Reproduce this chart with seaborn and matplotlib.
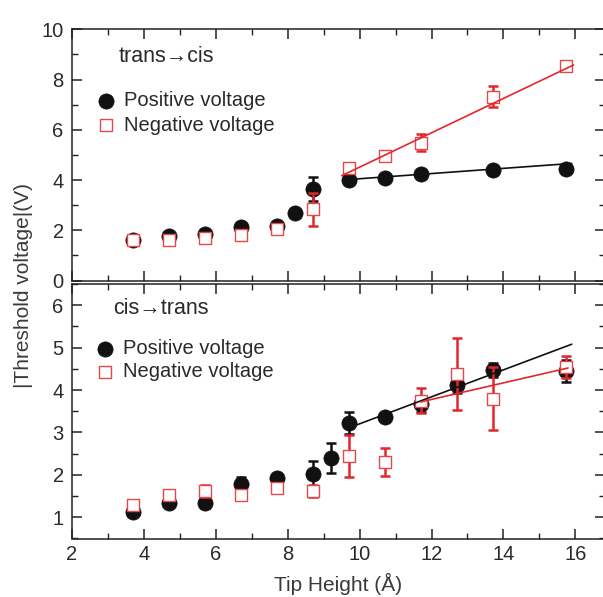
import numpy as np
import pandas as pd
import matplotlib
matplotlib.use("Agg")
import matplotlib.pyplot as plt
from matplotlib.ticker import MultipleLocator
import seaborn as sns

# ---------------- data ----------------
# top panel: trans -> cis
top_pos_x = [3.7, 4.7, 5.7, 6.7, 7.7, 8.2, 8.7, 9.7, 10.7, 11.7, 13.7, 15.75]
top_pos_y = [1.63, 1.76, 1.87, 2.14, 2.18, 2.70, 3.64, 4.02, 4.10, 4.24, 4.40, 4.44]
top_pos_e = [0.08, 0.08, 0.08, 0.08, 0.08, 0.15, 0.48, 0.05, 0.05, 0.05, 0.05, 0.05]

top_neg_x = [3.7, 4.7, 5.7, 6.7, 7.7, 8.7, 9.7, 10.7, 11.7, 13.7, 15.75]
top_neg_y = [1.63, 1.63, 1.71, 1.83, 2.06, 2.84, 4.49, 4.97, 5.49, 7.32, 8.55]
top_neg_e = [0.15, 0.15, 0.12, 0.15, 0.12, 0.66, 0.15, 0.08, 0.35, 0.43, 0.15]

top_pos_fit_x = [9.7, 15.9]
top_pos_fit_y = [4.02, 4.66]
top_neg_fit_x = [9.5, 15.95]
top_neg_fit_y = [4.17, 8.58]

# bottom panel: cis -> trans
bot_pos_x = [3.7, 4.7, 5.7, 6.7, 7.7, 8.7, 9.2, 9.7, 10.7, 11.7, 12.7, 13.7, 15.75]
bot_pos_y = [1.13, 1.33, 1.33, 1.78, 1.93, 2.03, 2.40, 3.22, 3.37, 3.66, 4.13, 4.47, 4.45]
bot_pos_e = [0.06, 0.05, 0.12, 0.17, 0.08, 0.30, 0.35, 0.26, 0.10, 0.18, 0.20, 0.17, 0.25]

bot_neg_x = [3.7, 4.7, 5.7, 6.7, 7.7, 8.7, 9.7, 10.7, 11.7, 12.7, 13.7, 15.75]
bot_neg_y = [1.28, 1.52, 1.62, 1.52, 1.70, 1.62, 2.44, 2.30, 3.75, 4.38, 3.80, 4.55]
bot_neg_e = [0.10, 0.10, 0.15, 0.07, 0.08, 0.15, 0.50, 0.33, 0.30, 0.85, 0.75, 0.26]

bot_pos_fit_x = [9.8, 15.9]
bot_pos_fit_y = [3.14, 5.08]
bot_neg_fit_x = [11.7, 15.8]
bot_neg_fit_y = [3.72, 4.52]

x_ticks = [2, 4, 6, 8, 10, 12, 14, 16]
top_yticks = [0, 2, 4, 6, 8, 10]
bot_yticks = [1, 2, 3, 4, 5, 6]

# ---------------- style ----------------
sns.set_theme(style="white")
plt.rcParams["font.family"] = ["Liberation Sans", "DejaVu Sans"]
plt.rcParams["axes.linewidth"] = 1.1

BLACK = "#111111"
RED = "#e3262b"
RED_EDGE = "#e5484b"
TXT = "#2a2a2a"

fig = plt.figure(figsize=(6.03, 5.97), dpi=100)
W, H = 603, 597
left_px, right_px = 72, 605
ax_top = fig.add_axes([left_px / W, 1 - 280.5 / H, (right_px - left_px) / W, (280.5 - 29.3) / H])
ax_bot = fig.add_axes([left_px / W, 1 - 538.5 / H, (right_px - left_px) / W, (538.5 - 284) / H])


def draw_panel(ax, px, py, pe, nx, ny, ne, pfx, pfy, nfx, nfy):
    ax.errorbar(px, py, yerr=pe, fmt="none", ecolor=BLACK, elinewidth=1.8,
                capsize=3.5, capthick=1.8, zorder=2)
    sns.scatterplot(x=px, y=py, ax=ax, marker="o", s=120, color=BLACK,
                    edgecolor=BLACK, linewidth=0.5, zorder=3, label="Positive voltage")
    ax.errorbar(nx, ny, yerr=ne, fmt="none", ecolor=RED, elinewidth=1.8,
                capsize=3.5, capthick=1.8, zorder=4)
    sns.scatterplot(x=nx, y=ny, ax=ax, marker="s", s=70, facecolor="white",
                    edgecolor=RED_EDGE, linewidth=1.0, zorder=5, label="Negative voltage")
    sns.lineplot(x=pfx, y=pfy, ax=ax, color=BLACK, linewidth=1.2, zorder=6,
                 legend=False)
    sns.lineplot(x=nfx, y=nfy, ax=ax, color=RED, linewidth=1.2, zorder=6,
                 legend=False)


draw_panel(ax_top, top_pos_x, top_pos_y, top_pos_e, top_neg_x, top_neg_y, top_neg_e,
           top_pos_fit_x, top_pos_fit_y, top_neg_fit_x, top_neg_fit_y)
draw_panel(ax_bot, bot_pos_x, bot_pos_y, bot_pos_e, bot_neg_x, bot_neg_y, bot_neg_e,
           bot_pos_fit_x, bot_pos_fit_y, bot_neg_fit_x, bot_neg_fit_y)

xr = 2 + (right_px - left_px) / 35.95
for ax in (ax_top, ax_bot):
    ax.set_xlim(2, xr)
    ax.set_xticks(x_ticks)
    ax.xaxis.set_minor_locator(MultipleLocator(1))
    ax.tick_params(which="both", direction="in", top=True, right=True,
                   bottom=True, left=True, colors="#222222", labelsize=14.5,
                   labelcolor=TXT)
    ax.tick_params(which="major", length=7, width=1.1)
    ax.tick_params(which="minor", length=4, width=1.0)
    ax.tick_params(axis="y", which="major", pad=6)
    ax.tick_params(axis="x", which="major", pad=5)
    for s in ax.spines.values():
        s.set_color("#222222")
    ax.set_ylabel("")
    ax.set_xlabel("")

ax_top.set_ylim(0, 10)
ax_top.set_yticks(top_yticks)
ax_top.yaxis.set_minor_locator(MultipleLocator(1))
ax_top.tick_params(labelbottom=False)

ax_bot.set_ylim(0.5, 6.5)
ax_bot.set_yticks(bot_yticks)
ax_bot.yaxis.set_minor_locator(MultipleLocator(0.5))
ax_bot.set_xlabel("Tip Height (Å)", fontsize=15, color="#3a3a3a", labelpad=6)

ax_top.text(0.088, 0.893, "trans\u2192cis", transform=ax_top.transAxes,
            fontsize=15.5, color=TXT, ha="left", va="center")
ax_bot.text(0.078, 0.905, "cis\u2192trans", transform=ax_bot.transAxes,
            fontsize=15.5, color=TXT, ha="left", va="center")

leg_kw = dict(frameon=False, fontsize=14.5, handlelength=1.0, handletextpad=0.37,
              borderpad=0, borderaxespad=0, loc="upper left", labelcolor=TXT)
ax_top.legend(bbox_to_anchor=(0.045, 0.754), labelspacing=0.28, **leg_kw)
ax_bot.legend(bbox_to_anchor=(0.043, 0.783), labelspacing=0.2, **leg_kw)

fig.text(24 / W, 1 - 286 / H, "|Threshold voltage|(V)", rotation=90,
         ha="center", va="center", fontsize=15, color="#3a3a3a")

fig.savefig("out.png", dpi=100)
